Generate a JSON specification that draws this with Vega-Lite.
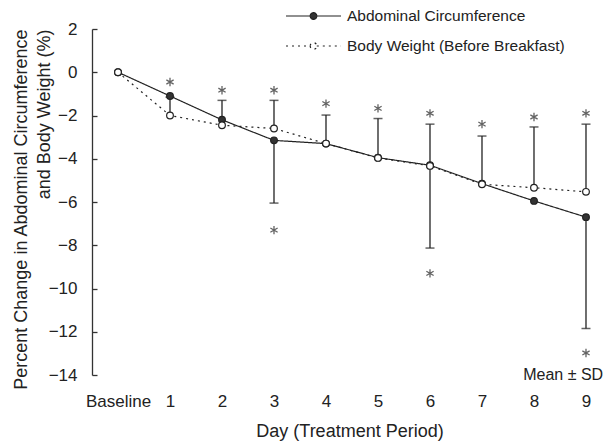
{
  "$schema": "https://vega.github.io/schema/vega-lite/v6.json",
  "autosize": {"type": "none"},
  "width": 515,
  "height": 346,
  "padding": {"left": 92, "top": 29, "right": 0, "bottom": 70},
  "config": {
    "view": {"stroke": null},
    "font": "Liberation Sans",
    "axis": {"labelFont": "Liberation Sans", "titleFont": "Liberation Sans", "labelColor": "#222", "titleColor": "#222", "titleFontWeight": "normal", "grid": false},
    "legend": {"labelFont": "Liberation Sans"}
  },
  "datasets": {
    "means": [
      {"day": 0, "series": "Abdominal Circumference", "mean": 0},
      {"day": 1, "series": "Abdominal Circumference", "mean": -1.1},
      {"day": 2, "series": "Abdominal Circumference", "mean": -2.2},
      {"day": 3, "series": "Abdominal Circumference", "mean": -3.15},
      {"day": 4, "series": "Abdominal Circumference", "mean": -3.3},
      {"day": 5, "series": "Abdominal Circumference", "mean": -3.95},
      {"day": 6, "series": "Abdominal Circumference", "mean": -4.3},
      {"day": 7, "series": "Abdominal Circumference", "mean": -5.15},
      {"day": 8, "series": "Abdominal Circumference", "mean": -5.95},
      {"day": 9, "series": "Abdominal Circumference", "mean": -6.7},
      {"day": 0, "series": "Body Weight (Before Breakfast)", "mean": 0},
      {"day": 1, "series": "Body Weight (Before Breakfast)", "mean": -2.0},
      {"day": 2, "series": "Body Weight (Before Breakfast)", "mean": -2.45},
      {"day": 3, "series": "Body Weight (Before Breakfast)", "mean": -2.6},
      {"day": 4, "series": "Body Weight (Before Breakfast)", "mean": -3.3},
      {"day": 5, "series": "Body Weight (Before Breakfast)", "mean": -3.96},
      {"day": 6, "series": "Body Weight (Before Breakfast)", "mean": -4.33},
      {"day": 7, "series": "Body Weight (Before Breakfast)", "mean": -5.18},
      {"day": 8, "series": "Body Weight (Before Breakfast)", "mean": -5.34},
      {"day": 9, "series": "Body Weight (Before Breakfast)", "mean": -5.53}
    ],
    "errors": [
      {"day": 1, "mean": -2.0, "bound": -1.15},
      {"day": 2, "mean": -2.45, "bound": -1.3},
      {"day": 3, "mean": -2.6, "bound": -1.3},
      {"day": 4, "mean": -3.3, "bound": -1.98},
      {"day": 5, "mean": -3.96, "bound": -2.14},
      {"day": 6, "mean": -4.33, "bound": -2.4},
      {"day": 7, "mean": -5.18, "bound": -2.95},
      {"day": 8, "mean": -5.34, "bound": -2.53},
      {"day": 9, "mean": -5.53, "bound": -2.4},
      {"day": 3, "mean": -3.15, "bound": -6.05},
      {"day": 6, "mean": -4.3, "bound": -8.13},
      {"day": 9, "mean": -6.7, "bound": -11.85}
    ],
    "stars": [
      {"day": 1, "pos": -0.45},
      {"day": 2, "pos": -0.83},
      {"day": 3, "pos": -0.83},
      {"day": 4, "pos": -1.45},
      {"day": 5, "pos": -1.67},
      {"day": 6, "pos": -1.9},
      {"day": 7, "pos": -2.4},
      {"day": 8, "pos": -2.07},
      {"day": 9, "pos": -1.9},
      {"day": 3, "pos": -7.3},
      {"day": 6, "pos": -9.3},
      {"day": 9, "pos": -12.98}
    ],
    "note": [
      {"label": "Mean ± SD", "day": 9.33, "pos": -14}
    ]
  },
  "layer": [
    {
      "mark": {"type": "rule", "color": "#333", "strokeWidth": 1.2},
      "encoding": {"y": {"datum": 0, "type": "quantitative"}}
    },
    {
      "data": {"name": "errors"},
      "mark": {"type": "rule", "color": "#222", "strokeWidth": 1.3},
      "encoding": {
        "x": {"field": "day", "type": "quantitative"},
        "y": {"field": "mean", "type": "quantitative"},
        "y2": {"field": "bound"}
      }
    },
    {
      "data": {"name": "errors"},
      "mark": {"type": "tick", "orient": "horizontal", "color": "#222", "size": 9, "thickness": 1.5},
      "encoding": {
        "x": {"field": "day", "type": "quantitative"},
        "y": {"field": "bound", "type": "quantitative"}
      }
    },
    {
      "data": {"name": "means"},
      "mark": {"type": "line", "color": "#222", "strokeWidth": 1.2},
      "encoding": {
        "x": {"field": "day", "type": "quantitative"},
        "y": {"field": "mean", "type": "quantitative"},
        "detail": {"field": "series"},
        "strokeDash": {
          "field": "series", "type": "nominal",
          "scale": {"domain": ["Abdominal Circumference", "Body Weight (Before Breakfast)"], "range": [[1, 0], [2, 4]]},
          "legend": {
            "title": null, "orient": "none", "legendX": 210.5, "legendY": -24,
            "symbolType": "M-2.75,0L-0.33,0M0.33,0L2.75,0M-0.33,0A0.33,0.33 0 1,0 0.33,0A0.33,0.33 0 1,0 -0.33,0Z",
            "symbolSize": 400, "symbolStrokeColor": "#222", "symbolStrokeWidth": 1.2,
            "labelFontSize": 15.5, "labelColor": "#222", "labelOffset": 22.5, "labelLimit": 0, "rowPadding": 10
          }
        }
      }
    },
    {
      "data": {"name": "means"},
      "mark": {"type": "point", "filled": true, "size": 45, "stroke": "#222", "strokeWidth": 1.2, "opacity": 1},
      "encoding": {
        "x": {"field": "day", "type": "quantitative"},
        "y": {"field": "mean", "type": "quantitative"},
        "fill": {
          "field": "series", "type": "nominal",
          "scale": {"domain": ["Abdominal Circumference", "Body Weight (Before Breakfast)"], "range": ["#333", "white"]},
          "legend": {"title": null}
        }
      }
    },
    {
      "data": {"name": "stars"},
      "mark": {"type": "point", "shape": "M0,-1L0,1M-0.87,-0.5L0.87,0.5M-0.87,0.5L0.87,-0.5", "size": 70, "filled": false, "stroke": "#222", "strokeWidth": 1.3},
      "encoding": {
        "x": {"field": "day", "type": "quantitative"},
        "y": {"field": "pos", "type": "quantitative"}
      }
    },
    {
      "data": {"name": "note"},
      "mark": {"type": "text", "align": "right", "baseline": "middle", "fontSize": 16, "font": "Liberation Sans", "color": "#222"},
      "encoding": {
        "x": {"field": "day", "type": "quantitative"},
        "y": {"field": "pos", "type": "quantitative"},
        "text": {"field": "label"}
      }
    }
  ],
  "encoding": {
    "x": {
      "type": "quantitative",
      "scale": {"domain": [-0.5, 9.404], "nice": false, "zero": false},
      "axis": {
        "values": [0, 1, 2, 3, 4, 5, 6, 7, 8, 9],
        "labelExpr": "datum.value == 0 ? 'Baseline' : datum.label",
        "domain": false, "ticks": false, "labelFontSize": 17, "labelPadding": 18,
        "title": "Day  (Treatment Period)", "titleFontSize": 18, "titlePadding": 13
      }
    },
    "y": {
      "type": "quantitative",
      "scale": {"domain": [-14, 2], "nice": false, "zero": false},
      "axis": {
        "values": [-14, -12, -10, -8, -6, -4, -2, 0, 2],
        "domainColor": "#333", "domainWidth": 1.3, "tickColor": "#333", "tickSize": -5, "tickWidth": 1.3,
        "labelFontSize": 17, "labelPadding": 20,
        "title": ["Percent Change in Abdominal Circumference", "and Body Weight (%)"],
        "titleFontSize": 18, "titleLineHeight": 23, "titleAngle": -90,
        "titleAnchor": "end", "titleAlign": "right", "titleBaseline": "alphabetic", "titleX": -66
      }
    }
  }
}
